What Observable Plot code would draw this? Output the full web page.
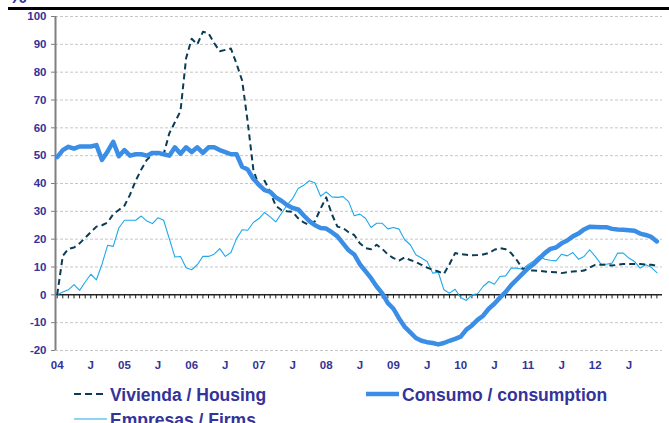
<!DOCTYPE html>
<html>
<head>
<meta charset="utf-8">
<script src="https://cdn.jsdelivr.net/npm/d3@7"></script>
<script src="https://cdn.jsdelivr.net/npm/@observablehq/plot@0.6"></script>
<style>
  body { margin: 0; background: #fff; font-family: "Liberation Sans", Arial, sans-serif; }
  #wrap { position: relative; width: 669px; height: 423px; overflow: hidden; }
  #rule { position: absolute; left: 8px; top: 7px; width: 661px; height: 3px; background: #000; }
  #pct { position: absolute; left: 9px; top: -14px; font: bold 20px/20px "Liberation Sans", Arial, sans-serif; color: #333399; }
  .leg { position: absolute; height: 18px; display: flex; align-items: center; white-space: nowrap;
         font: bold 17.5px/18px "Liberation Sans", Arial, sans-serif; color: #333399; }
  .leg svg { margin-right: 3px; }
</style>
</head>
<body>
<div id="wrap">
  <div id="chart"></div>
  <div id="pct">%</div>
  <div id="rule"></div>
  <div id="legend"></div>
</div>
<script>
// monthly data, Jan 2004 .. Dec 2012
const yearLabels = ["04", "05", "06", "07", "08", "09", "10", "11", "12"];
const yTicks = [-20, -10, 0, 10, 20, 30, 40, 50, 60, 70, 80, 90, 100];

const vivienda = [
  0, 14, 16.5, 17, 18.5, 20.5, 22.5, 24.5, 25, 26, 29, 30.5,
  32, 36, 41, 45, 48.5, 50.5, 51, 50.5, 58, 62, 66, 85,
  92, 90, 94.5, 94, 90.5, 87.5, 88, 88.5, 83, 77, 62, 45,
  39, 41, 37, 32, 30.5, 30, 29.8, 27.5, 26, 25, 26.5, 31,
  35, 29, 24.5, 24, 22.5, 21.5, 18.5, 16.8, 16.4, 18, 16.5, 14.5,
  13.2, 12.3, 13.5, 12.5, 11.8, 10.8, 9.8, 9, 8.4, 7.5, 11, 15,
  14.6, 14.4, 14.2, 14.3, 14.5, 15, 16.2, 16.8, 16.4, 15, 12.5, 9.5,
  8.7, 8.7, 8.6, 8.4, 8.2, 8.1, 7.8, 8.1, 8.4, 8.5, 8.7, 9.8,
  10.8, 10.8, 10.8, 10.5, 10.8, 11.1, 11.1, 11.1, 11.1, 10.9, 10.8, 10.4
];

const consumo = [
  49.5, 52, 53.2, 52.5, 53.3, 53.3, 53.3, 53.8, 48.5, 51.5, 55, 49.8,
  52, 50, 50.5, 50.5, 50, 51, 51, 50.5, 50, 53, 50.7, 53,
  51.3, 53, 51, 53, 53, 52, 51.3, 50.5, 50.5, 46, 45, 41.7,
  39.5, 37.6, 37, 35, 33.8, 32.3, 31.2, 30.7, 28.5, 26.5, 25, 24,
  23.8, 22.5, 21, 18.5, 16, 14.5, 11, 8.5, 6, 3, 0.5, -3,
  -5, -8.5, -11.5, -13.5, -15.5, -16.5, -17, -17.3, -17.8, -17.3, -16.5, -15.8,
  -15, -12.5, -11, -9, -7.5, -5, -3.2, -1, 1, 3.5, 5.5, 7.5,
  9.5, 11, 13, 15, 16.5, 17, 18.5, 19.5, 21, 22, 23.5, 24.5,
  24.4, 24.3, 24.3, 23.7, 23.5, 23.4, 23.2, 23, 22, 21.5, 20.8, 19.2
];

const empresas = [
  0, 1, 1.8, 3.7, 1.6, 4.6, 7.4, 5.4, 11, 17.8, 17.4, 24,
  26.8, 26.8, 26.8, 28.3, 26.5, 25.6, 27.7, 26.8, 20.2, 13.6, 13.8, 9.7,
  9, 10.8, 13.8, 13.8, 14.6, 16.6, 13.8, 15.2, 20.2, 23.4, 23.2, 26,
  27.4, 29.6, 28, 26.2, 29.2, 32.2, 34.6, 38.2, 39.4, 41, 40.2, 35.4,
  37, 35.2, 35, 35.3, 33.5, 28.4, 29, 27.5, 24.2, 25.7, 25.7, 23.7,
  24.2, 23.6, 19.8, 18, 14.4, 13.2, 12, 7.8, 8.1, 1.8, 0.6, 2,
  -1, -2, 0, 0.4, 3, 4.8, 3.8, 6.6, 6.8, 9.6, 9.6, 9.2,
  10.8, 12.2, 14, 12.8, 12.4, 12.2, 14.6, 14, 15.2, 12.8, 13.8, 16.2,
  13.8, 11.1, 11, 11.4, 15, 15, 13.2, 12, 9.6, 10.8, 9.9, 8
];

const series = [
  { key: "empresas", label: "Empresas / Firms", values: empresas, color: "#1fa9ea", width: 1.1, dash: null },
  { key: "vivienda", label: "Vivienda / Housing", values: vivienda, color: "#0b3c55", width: 2, dash: "6,4" },
  { key: "consumo", label: "Consumo / consumption", values: consumo, color: "#3a8ee6", width: 4.5, dash: null }
];

const months = consumo.map((_, i) => i);
const rows = series.flatMap(s => s.values.map((v, i) => ({ i, v, key: s.key })));

const xTicks = yearLabels.flatMap((y, k) => [{ i: k * 12, label: y }, { i: k * 12 + 6, label: "J" }]);
const xLabel = new Map(xTicks.map(d => [d.i, d.label]));
const xMin = -0.3;

const chart = Plot.plot({
  width: 669,
  height: 375,
  marginLeft: 55,
  marginRight: 7,
  marginTop: 16,
  marginBottom: 25,
  x: { domain: [xMin, 108], axis: null },
  y: { domain: [-20, 100], axis: null },
  style: { fontFamily: "Liberation Sans, Arial, sans-serif", fontWeight: "bold", fontSize: "11.5px", color: "#333399", background: "#fff" },
  marks: [
    Plot.ruleY(yTicks.filter(d => d !== 0), { stroke: "#c6c6c6", strokeDasharray: "3,2", strokeWidth: 1 }),
    Plot.ruleX(months, { x: d => d, y1: 0, y2: -1.45, stroke: "#222", strokeWidth: 1 }),
    Plot.ruleY([0], { stroke: "#222", strokeWidth: 1.5 }),
    Plot.ruleX([xMin], { stroke: "#808080", strokeWidth: 2 }),
    Plot.axisY({ ticks: yTicks, tickSize: 4, tickPadding: 5, stroke: "#808080", tickFormat: d => d, label: null }),
    Plot.axisX({ ticks: xTicks.map(d => d.i), tickSize: 0, tickPadding: 10, tickFormat: d => xLabel.get(d), label: null }),
    ...series.map(s => Plot.line(rows.filter(r => r.key === s.key), {
      x: "i", y: "v", stroke: s.color, strokeWidth: s.width, strokeDasharray: s.dash,
      strokeLinejoin: "round", strokeLinecap: s.dash ? "butt" : "round"
    }))
  ]
});
document.getElementById("chart").appendChild(chart);

// legend below the plot
const legendPos = { vivienda: [74, 386], consumo: [366, 386], empresas: [74, 411] };
const legend = document.getElementById("legend");
series.forEach(s => {
  const [left, top] = legendPos[s.key];
  const item = document.createElement("div");
  item.className = "leg";
  item.style.left = left + "px";
  item.style.top = top + "px";
  item.innerHTML = `<svg width="33" height="18"><line x1="0" x2="33" y1="8" y2="8" stroke="${s.color}"
    stroke-width="${s.width}" ${s.dash ? `stroke-dasharray="7,4"` : ""}/></svg><span>${s.label}</span>`;
  legend.appendChild(item);
});
</script>
</body>
</html>
